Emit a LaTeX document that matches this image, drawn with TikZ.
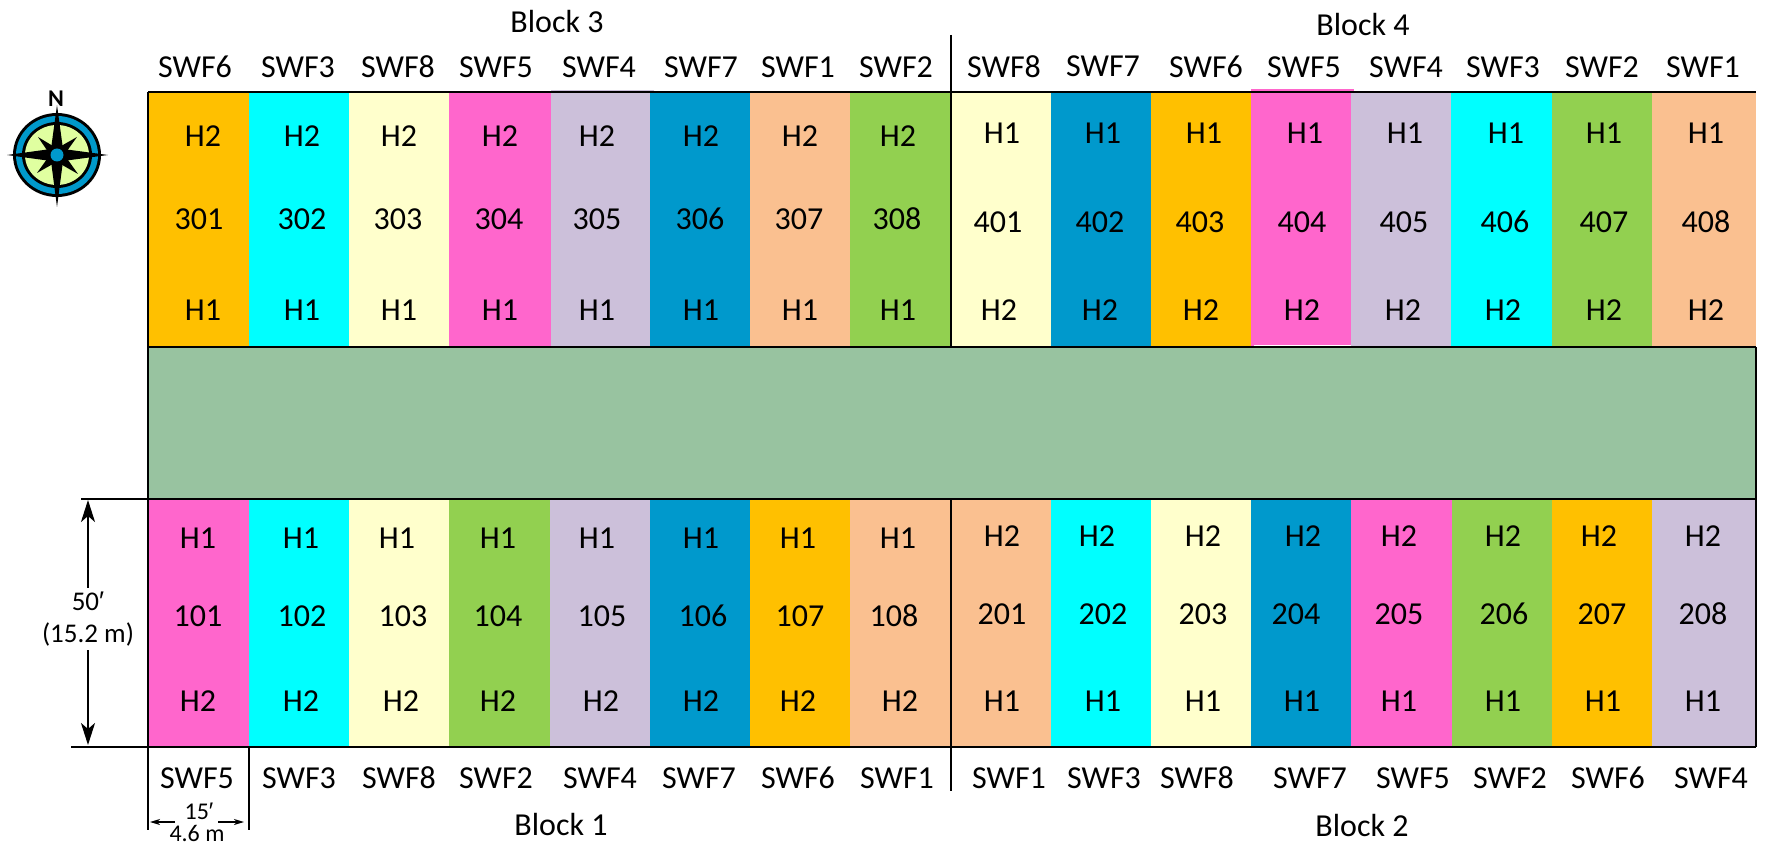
\documentclass[tikz,border=0pt]{standalone}
\usepackage{fontspec}
\setmainfont{Carlito}
\newfontfamily\primefont{Liberation Sans}
\usetikzlibrary{arrows.meta}
\definecolor{swforange}{HTML}{FFC000}
\definecolor{swfcyan}{HTML}{00FFFF}
\definecolor{swfyellow}{HTML}{FFFFCC}
\definecolor{swfpink}{HTML}{FF66CC}
\definecolor{swflilac}{HTML}{CCC0DA}
\definecolor{swfblue}{HTML}{0099CC}
\definecolor{swfpeach}{HTML}{FAC090}
\definecolor{swfgreen}{HTML}{92D050}
\definecolor{swfsage}{HTML}{98C3A0}
\definecolor{swflime}{HTML}{E0FFA0}
\begin{document}
\begin{tikzpicture}[
    x=1pt, y=-1pt,
    every node/.style={inner sep=0pt, font=\fontsize{32}{38}\selectfont},
    cell/.style={fill=#1, anchor=north west, minimum height=0pt},
    frameline/.style={draw, line width=2.6pt},
    dimarrow/.style={line width=2.2pt, shorten <=4pt, -{Stealth[length=22pt, width=14pt, inset=6pt]}},
    tinyarrow/.style={line width=1.2pt, -{Stealth[length=10pt, width=6pt, inset=3pt]}},
    dimlabel/.style={align=center, font=\fontsize{27}{32}\selectfont}
]
\useasboundingbox (0,0) rectangle (1765,845);

\foreach \xa/\w/\c/\s/\sx/\tx/\n/\nx/\bx in {
    149/100/swforange/SWF6/195/203/301/199/203, 249/100/swfcyan/SWF3/298/302/302/302/302,
    349/100/swfyellow/SWF8/398/399/303/398/399, 449/102/swfpink/SWF5/496/500/304/499/500,
    551/99/swflilac/SWF4/599/597/305/597/597, 650/100/swfblue/SWF7/701/701/306/700/701,
    750/100/swfpeach/SWF1/798/800/307/799/800, 850/101/swfgreen/SWF2/896/898/308/897/898} {
  \node[cell=\c, minimum width=\w, minimum height=255] (cell\n) at (\xa,92) {};
  \node (swf\n) at (\sx,67) {\s};
  \node (top\n) at (\tx,136) {H2};
  \node (num\n) at (\nx,219) {\n};
  \node (bot\n) at (\bx,310) {H1};
}
\foreach \xa/\w/\c/\s/\sx/\sy/\tx/\n/\nx/\bx in {
    951/100/swfyellow/SWF8/1004/67/1002/401/998/999, 1051/100/swfblue/SWF7/1103/66/1103/402/1100/1100,
    1151/100/swforange/SWF6/1206/67/1204/403/1200/1201, 1251/100/swfpink/SWF5/1304/67/1305/404/1302/1302,
    1351/100/swflilac/SWF4/1406/67/1405/405/1404/1403, 1451/101/swfcyan/SWF3/1503/67/1506/406/1505/1503,
    1552/100/swfgreen/SWF2/1602/67/1604/407/1604/1604, 1652/104/swfpeach/SWF1/1703/67/1706/408/1706/1706} {
  \node[cell=\c, minimum width=\w, minimum height=255] (cell\n) at (\xa,92) {};
  \node (swf\n) at (\sx,\sy) {\s};
  \node (top\n) at (\tx,133) {H1};
  \node (num\n) at (\nx,222) {\n};
  \node (bot\n) at (\bx,310) {H2};
}
\foreach \xa/\w/\c/\s/\sx/\tx/\n/\nx/\bx in {
    149/100/swfpink/SWF5/197/198/101/198/198, 249/100/swfcyan/SWF3/299/301/102/302/301,
    349/100/swfyellow/SWF8/399/397/103/403/401, 449/101/swfgreen/SWF2/496/498/104/498/498,
    550/100/swflilac/SWF4/600/597/105/602/601, 650/100/swfblue/SWF7/699/701/106/703/701,
    750/100/swforange/SWF6/798/798/107/800/798, 850/101/swfpeach/SWF1/897/898/108/894/900} {
  \node[cell=\c, minimum width=\w, minimum height=248] (cell\n) at (\xa,499) {};
  \node (swf\n) at (\sx,778) {\s};
  \node (top\n) at (\tx,538) {H1};
  \node (num\n) at (\nx,616) {\n};
  \node (bot\n) at (\bx,701) {H2};
}
\foreach \xa/\w/\c/\s/\sx/\tx/\n/\nx/\bx in {
    951/100/swfpeach/SWF1/1009/1002/201/1002/1002, 1051/100/swfcyan/SWF3/1104/1097/202/1103/1103,
    1151/100/swfyellow/SWF8/1197/1203/203/1203/1203, 1251/100/swfblue/SWF7/1310/1303/204/1296/1302,
    1351/101/swfpink/SWF5/1413/1399/205/1399/1399, 1452/100/swfgreen/SWF2/1510/1503/206/1504/1503,
    1552/100/swforange/SWF6/1608/1599/207/1602/1603, 1652/104/swflilac/SWF4/1711/1703/208/1703/1703} {
  \node[cell=\c, minimum width=\w, minimum height=248] (cell\n) at (\xa,499) {};
  \node (swf\n) at (\sx,778) {\s};
  \node (top\n) at (\tx,536) {H2};
  \node (num\n) at (\nx,614) {\n};
  \node (bot\n) at (\bx,701) {H1};
}
\fill[swfsage] (148,347) rectangle (1756,499);
\fill[swflilac] (551,90) rectangle (654,92);
\fill[swfpink] (1251,89) rectangle (1354,92);
\draw[white, line width=1pt] (1254,345) -- (1351,345);

\draw[frameline] (148,92) -- (1756,92);
\draw[frameline] (148,347) -- (1756,347);
\draw[frameline] (81,499) -- (1756,499);
\draw[frameline] (71,747) -- (1756,747);
\draw[frameline] (148,92) -- (148,830);
\draw[frameline] (1756,347) -- (1756,747);
\draw[frameline] (249,747) -- (249,830);
\draw[frameline] (951,35) -- (951,347);
\draw[frameline] (951,499) -- (951,791);

\node (block3) at (557,22) {Block 3};
\node (block4) at (1363,25) {Block 4};
\node (block1) at (561,824) {Block 1};
\node (block2) at (1362,825) {Block 2};

\coordinate (dimtop) at (88,500);
\coordinate (dimbot) at (88,745);
\node[dimlabel] (dimlong) at (88,619) {50{\primefont ′}\\(15.2 m)};
\draw[dimarrow] (dimlong) -- (dimtop);
\draw[dimarrow] (dimlong) -- (dimbot);

\coordinate (dimleft) at (150,822);
\coordinate (dimright) at (244,822);
\coordinate (dimleftin) at (175,822);
\coordinate (dimrightin) at (218,822);
\node[font=\fontsize{24}{28}\selectfont] (dimft) at (199,811) {15{\primefont ′}};
\node[font=\fontsize{24}{28}\selectfont] (dimm) at (197,833) {4.6 m};
\draw[tinyarrow] (dimleftin) -- (dimleft);
\draw[tinyarrow] (dimrightin) -- (dimright);

\fill (57,155) ellipse [x radius=44, y radius=42];
\fill[swfblue] (57,155) ellipse [x radius=41, y radius=39];
\fill (57,155) ellipse [x radius=35, y radius=33];
\fill[swflime] (57,155) ellipse [x radius=32, y radius=30];
\foreach \dx/\dy in {-19/-18, 20/-18, -20/18, 21/19} {
  \fill (57+\dx,155+\dy) -- (57+.22*\dy,155-.22*\dx) -- (57-.22*\dy,155+.22*\dx) -- cycle;
}
\fill (57,105) -- (63,149) -- (108,155) -- (63,161) -- (57,207) -- (51,161) -- (7,155) -- (51,149) -- cycle;
\fill[swfblue] (57,155) circle (6.5);
\node[font=\bfseries\fontsize{24}{28}\selectfont] (north) at (56,99) {N};
\end{tikzpicture}
\end{document}
